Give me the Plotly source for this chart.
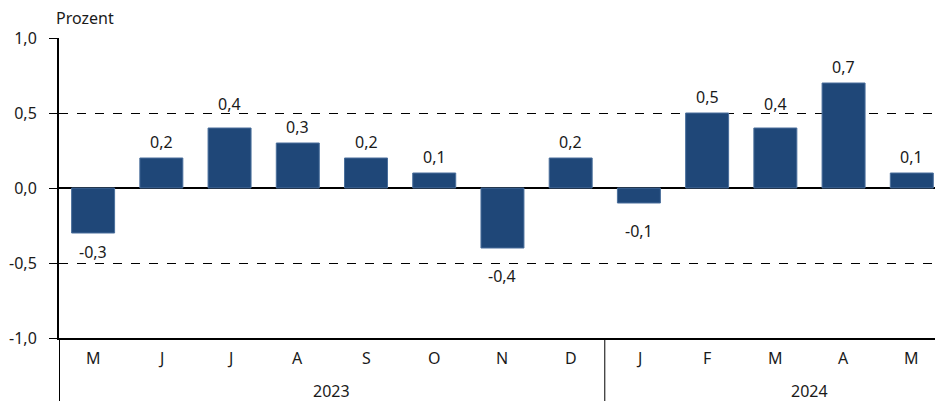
import plotly.graph_objects as go

months = ["M", "J", "J", "A", "S", "O", "N", "D", "J", "F", "M", "A", "M"]
years = ["2023", "2024"]
year_centers = [3.5, 10.5]
values = [-0.3, 0.2, 0.4, 0.3, 0.2, 0.1, -0.4, 0.2, -0.1, 0.5, 0.4, 0.7, 0.1]
y_ticks = [-1.0, -0.5, 0.0, 0.5, 1.0]
y_ticktext = ["-1,0", "-0,5", "0,0", "0,5", "1,0"]
grid_lines = [-0.5, 0.5, 1.0]

FONT = "Noto Sans"
TXT = "#1a1a1a"
FS = 16
W, H = 935, 401
ML, MR, MT, MB = 59, 0, 38, 63
PLOT_H = H - MT - MB
YR = [-1.0, 1.0]
PX = PLOT_H / (YR[1] - YR[0])  # pixels per unit

x = list(range(len(values)))
labels = [f"{v:.1f}".replace(".", ",") for v in values]

fig = go.Figure()
fig.add_trace(go.Bar(
    x=x, y=values,
    marker=dict(color="#1f4778", line=dict(color="#4a6f9c", width=1)),
    hoverinfo="skip",
))

annotations = []
half = 8
for i, (v, lab) in enumerate(zip(values, labels)):
    if v >= 0:
        shift = 16
        for g in grid_lines:
            gpx = (g - v) * PX
            if shift - half - 2 < gpx < shift + half + 2:
                shift = gpx + half + 1
    else:
        shift = -28
        for g in grid_lines:
            gpx = (g - v) * PX
            if shift - half - 2 < gpx < shift + half + 2:
                shift = gpx + half + 3
    annotations.append(dict(x=i, y=v, xref="x", yref="y", text=lab, showarrow=False,
                            yanchor="middle", yshift=shift,
                            font=dict(family=FONT, size=FS, color=TXT)))

annotations += [dict(x=i, y=0, xref="x", yref="paper", text=m, showarrow=False,
                     yanchor="middle", yshift=-20, font=dict(family=FONT, size=FS, color=TXT))
                for i, m in enumerate(months)]
annotations += [dict(x=c, y=0, xref="x", yref="paper", text=yv, showarrow=False,
                     yanchor="middle", yshift=-53, font=dict(family=FONT, size=FS, color=TXT))
                for c, yv in zip(year_centers, years)]
annotations.append(dict(x=0, y=1, xref="paper", yref="paper", text="Prozent", showarrow=False,
                        xanchor="left", yanchor="middle", xshift=-5, yshift=20,
                        font=dict(family=FONT, size=FS, color=TXT)))

shapes = [
    dict(type="line", xref="x", yref="paper", x0=-0.5, x1=-0.5, y0=0, y1=-0.25,
         line=dict(color="black", width=2)),
    dict(type="line", xref="x", yref="paper", x0=7.5, x1=7.5, y0=0, y1=-0.25,
         line=dict(color="black", width=1)),
]

fig.update_layout(
    width=W, height=H,
    margin=dict(l=ML, r=MR, t=MT, b=MB),
    plot_bgcolor="white", paper_bgcolor="white",
    showlegend=False, bargap=0.37,
    font=dict(family=FONT, size=FS, color=TXT),
    annotations=annotations, shapes=shapes,
    xaxis=dict(range=[-0.5, 12.34], showticklabels=False, showgrid=False, zeroline=False,
               showline=True, linecolor="black", linewidth=1.5, ticks=""),
    yaxis=dict(range=YR, tickvals=y_ticks, ticktext=y_ticktext,
               showgrid=True, gridcolor="black", griddash="dash", gridwidth=1,
               zeroline=True, zerolinecolor="black", zerolinewidth=1.5,
               showline=True, linecolor="black", linewidth=2,
               ticks="outside", ticklen=8, tickcolor="black", tickwidth=1,
               ticklabelstandoff=9,
               tickfont=dict(family=FONT, size=FS, color=TXT)),
)

fig.write_html(
    "out.html",
    config={"displayModeBar": False, "staticPlot": True},
    post_script="document.body.style.margin='0';document.body.style.overflow='hidden';"
                "document.documentElement.style.overflow='hidden';",
)
